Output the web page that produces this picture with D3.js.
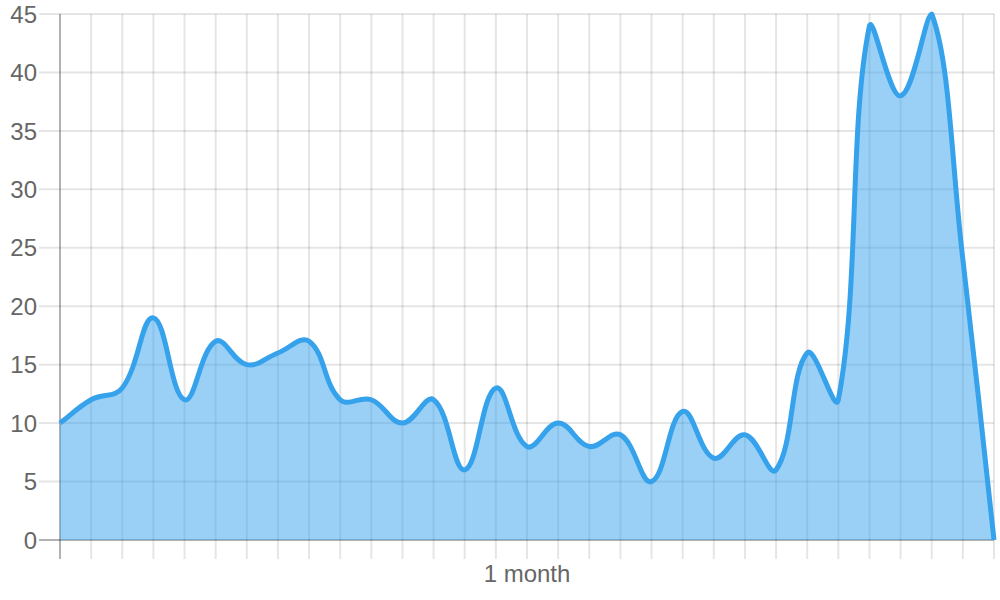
<!DOCTYPE html>
<html>
<head>
<meta charset="utf-8">
<script src="https://cdn.jsdelivr.net/npm/d3@7"></script>
<style>
html,body{margin:0;padding:0;background:#fff;}
svg{display:block;}
text{font-family:"Liberation Sans",Arial,Helvetica,sans-serif;}
</style>
</head>
<body>
<svg id="chart" width="1000" height="600"></svg>
<script>
// ---- data ----
const categories = ["","","","","","","","","","","","","","","","1 month","","","","","","","","","","","","","","",""];
const values = [10,12,13,19,12,17,15,16,17,12,12,10,12,6,13,8,10,8,9,5,11,7,9,6,16,12,44,38,45,24,0];
const yTicks = [0,5,10,15,20,25,30,35,40,45];

const area = {left:60, right:994, top:14, bottom:540};
const svg = d3.select("#chart");

const x = d3.scalePoint().domain(d3.range(categories.length)).range([area.left, area.right]);
const y = d3.scaleLinear().domain([0,45]).range([area.bottom, area.top]);

const gridColor = "rgba(0,0,0,0.1)";
const axisColor = "rgba(0,0,0,0.3)";

// Chart.js-like spline curve (tension 0.4, control points capped to chart area)
function chartjsCurve(tension){
  return function(context){
    return {
      lineStart(){ this.pts = []; },
      point(px,py){ this.pts.push([+px,+py]); },
      lineEnd(){
        const p = this.pts, n = p.length;
        if(!n) return;
        const cps = p.map((cur,i)=>{
          const prev = p[i-1] || cur, next = p[i+1] || cur;
          const d01 = Math.hypot(cur[0]-prev[0], cur[1]-prev[1]);
          const d12 = Math.hypot(next[0]-cur[0], next[1]-cur[1]);
          let s01 = d01/(d01+d12), s12 = d12/(d01+d12);
          if(isNaN(s01)) s01 = 0; if(isNaN(s12)) s12 = 0;
          const fa = tension*s01, fb = tension*s12;
          const cl = (v,a,b)=>Math.max(a,Math.min(b,v));
          const c1 = [cl(cur[0]-fa*(next[0]-prev[0]),area.left,area.right), cl(cur[1]-fa*(next[1]-prev[1]),area.top,area.bottom)];
          const c2 = [cl(cur[0]+fb*(next[0]-prev[0]),area.left,area.right), cl(cur[1]+fb*(next[1]-prev[1]),area.top,area.bottom)];
          return {c1,c2};
        });
        context.moveTo(p[0][0],p[0][1]);
        for(let i=1;i<n;i++){
          context.bezierCurveTo(cps[i-1].c2[0],cps[i-1].c2[1],cps[i].c1[0],cps[i].c1[1],p[i][0],p[i][1]);
        }
      },
      areaStart(){}, areaEnd(){}
    };
  };
}

// ---- grid ----
const g = svg.append("g");
// horizontal grid lines (with tick extension to the left)
g.selectAll("line.hgrid").data(yTicks).join("line")
  .attr("x1", 39).attr("x2", area.right)
  .attr("y1", d=>y(d)).attr("y2", d=>y(d))
  .attr("stroke", d=> d===0 ? axisColor : gridColor).attr("stroke-width", 2);
// vertical grid lines (with tick extension below)
g.selectAll("line.vgrid").data(d3.range(categories.length)).join("line")
  .attr("x1", d=>x(d)).attr("x2", d=>x(d))
  .attr("y1", area.top).attr("y2", 559)
  .attr("stroke", d=> d===0 ? axisColor : gridColor).attr("stroke-width", 2);

// y labels
g.selectAll("text.ylab").data(yTicks).join("text")
  .attr("x", 37).attr("y", d=>y(d)).attr("dy","0.36em")
  .attr("text-anchor","end").attr("font-size",24).attr("fill","#666")
  .text(d=>d);

// x labels
g.selectAll("text.xlab").data(categories.map((c,i)=>({c,i})).filter(d=>d.c)).join("text")
  .attr("x", d=>x(d.i)).attr("y", 582)
  .attr("text-anchor","middle").attr("font-size",24).attr("fill","#666")
  .text(d=>d.c);

// ---- data ----
const line = d3.line().x((d,i)=>x(i)).y(d=>y(d)).curve(chartjsCurve(0.4));
const linePath = line(values);
const n = values.length;
svg.append("path")
  .attr("d", linePath + `L${x(n-1)},${y(0)}L${x(0)},${y(0)}Z`)
  .attr("fill","rgba(54,162,235,0.5)");
svg.append("path")
  .attr("d", linePath)
  .attr("fill","none").attr("stroke","rgb(54,162,235)").attr("stroke-width",5)
  .attr("stroke-linejoin","round");
</script>
</body>
</html>
